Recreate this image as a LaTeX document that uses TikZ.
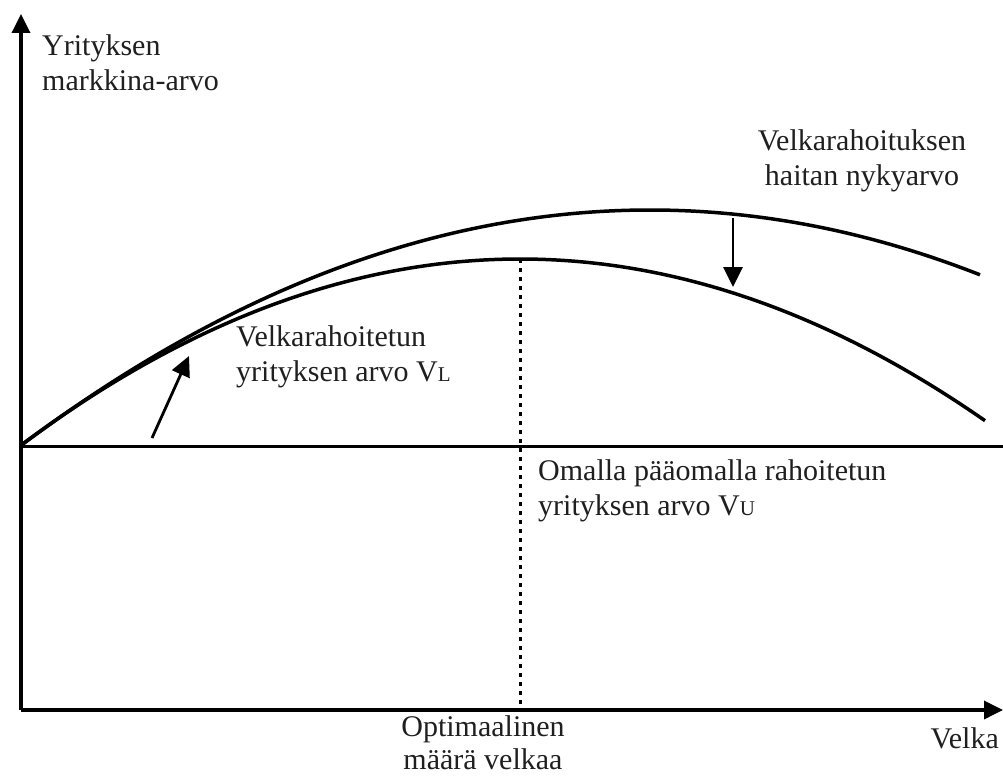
\documentclass[tikz,border=0pt]{standalone}
\usepackage{fontspec}
\setmainfont{Liberation Serif}
\usetikzlibrary{arrows.meta}
\tikzset{
  axis/.style={line width=3.5pt,-{Triangle[length=19pt,width=18pt]}},
  curve/.style={line width=3.5pt},
  pointer/.style={line width=2.8pt,-{Triangle[length=20pt,width=19pt]}},
  lbl/.style={inner sep=0pt,font=\fontsize{30}{35}\selectfont,text=black!88},
}
\newcommand{\smallsub}[1]{{\fontsize{21}{21}\selectfont #1}}
\begin{document}
\begin{tikzpicture}[x=1pt,y=-1pt]
\useasboundingbox (0,0) rectangle (1003,776);
% axes
\coordinate (O) at (21,710);
\coordinate (ytip) at (21,14);
\coordinate (xtip) at (1003,710);
\draw[axis] (O) -- (ytip);
\draw[axis] (O) -- (xtip);
% unlevered value line
\coordinate (vu0) at (21,446);
\coordinate (vu1) at (1003,446);
\draw[line width=3pt] (vu0) -- (vu1);
% curves
\draw[curve] plot[domain=21:980,samples=120] (\x,{210+0.000596*(\x-650)*(\x-650)});
\draw[curve] plot[domain=21:985,samples=120] (\x,{259+0.000751*(\x-520)*(\x-520)});
% optimum dotted line
\coordinate (peak) at (520,259);
\coordinate (opt) at (520,710);
\draw[line width=3pt,dash pattern=on 4pt off 5pt] (peak) -- (opt);
% pointer arrows
\coordinate (a1s) at (152,438);
\coordinate (a1e) at (189,356);
\draw[pointer] (a1s) -- (a1e);
\coordinate (a2s) at (733,218);
\coordinate (a2e) at (733,287);
\draw[pointer] (a2s) -- (a2e);
% labels
\node[lbl,anchor=west,align=left] (ylab) at (42,63) {Yrityksen\\markkina-arvo};
\node[lbl,align=center] (haitta) at (862,161) {Velkarahoituksen\\haitan nykyarvo};
\node[lbl,anchor=west,align=left] (vl) at (236,357) {Velkarahoitetun\\yrityksen arvo V\smallsub{L}};
\node[lbl,anchor=west,align=left] (vu) at (538,491) {Omalla pääomalla rahoitetun\\yrityksen arvo V\smallsub{U}};
\node[lbl,align=center,anchor=south,font=\fontsize{30}{33}\selectfont] (optlab) at (483,770) {Optimaalinen\\määrä velkaa};
\node[lbl,anchor=base east] (velka) at (999,748) {Velka};
\end{tikzpicture}
\end{document}
